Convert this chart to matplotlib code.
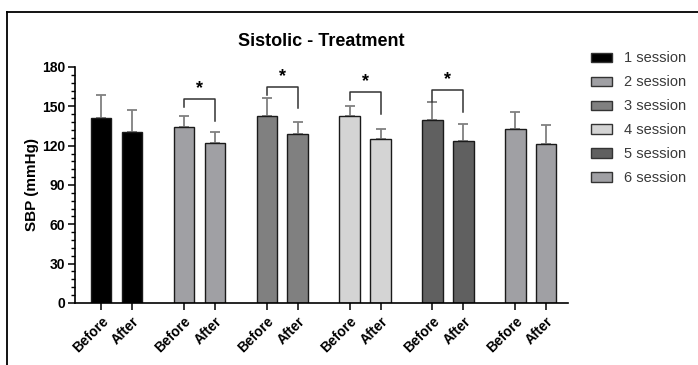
import numpy as np
import matplotlib.pyplot as plt
from matplotlib.lines import Line2D
from matplotlib.patches import Patch
from matplotlib.ticker import MultipleLocator

plt.rcParams['font.family'] = ['Liberation Sans', 'DejaVu Sans']

sessions = ['1 session', '2 session', '3 session', '4 session', '5 session', '6 session']
before = [141, 134.5, 142.5, 142.5, 139.5, 132.5]
after = [130.5, 122, 129, 125, 123.5, 121]
before_sd = [17.5, 8, 14, 8, 14, 13]
after_sd = [17, 8.5, 9, 7.5, 13, 15]
colors = ['#000000', '#a0a0a4', '#808080', '#d4d4d4', '#606060', '#a0a0a4']

# significance brackets: session index, top, left leg end, right leg end
sig_idx = [1, 2, 3, 4]
sig_top = [155.5, 165, 161, 162.5]
sig_left = [149.5, 158.5, 155, 153.5]
sig_right = [138.5, 149, 144.5, 146]

fig = plt.figure(figsize=(6.98, 3.65), dpi=100)
ax = fig.add_axes([0.1075, 0.17, 0.7065, 0.6465])

gap = 2.68
w = 0.66
for i in range(len(sessions)):
    xb = i * gap
    xa = i * gap + 1
    ax.bar([xb, xa], [before[i], after[i]], width=w, color=colors[i],
           edgecolor='#1a1a1a', linewidth=1.0, zorder=2)
    ax.errorbar([xb, xa], [before[i], after[i]],
                yerr=[[0, 0], [before_sd[i], after_sd[i]]],
                fmt='none', ecolor='#808080', elinewidth=1.3,
                capsize=3.3, capthick=1.3, zorder=1)

for k, i in enumerate(sig_idx):
    xb = i * gap
    xa = i * gap + 1
    ax.plot([xb, xb, xa, xa], [sig_left[k], sig_top[k], sig_top[k], sig_right[k]],
            color='#333333', lw=1.1, clip_on=False)
    ax.text((xb + xa) / 2, sig_top[k] + 1.5, '*', ha='center', va='bottom',
            fontsize=13, fontweight='bold')

ticks = []
labels = []
for i in range(len(sessions)):
    ticks += [i * gap, i * gap + 1]
    labels += ['Before', 'After']
ax.set_xticks(ticks)
ax.set_xticklabels(labels, rotation=45, ha='right', rotation_mode='anchor',
                   fontsize=10, fontweight='bold')
ax.set_xlim(-0.84, 5 * gap + 1 + 0.71)
ax.set_ylim(0, 180)
ax.yaxis.set_major_locator(MultipleLocator(30))
ax.yaxis.set_minor_locator(MultipleLocator(6))
for lab in ax.get_yticklabels():
    lab.set_fontweight('bold')
    lab.set_fontsize(10)
ax.tick_params(axis='both', which='major', length=5, width=1.1, pad=2)
ax.tick_params(axis='y', which='minor', length=3, width=1.0)
ax.tick_params(axis='x', pad=3)
ax.spines['top'].set_visible(False)
ax.spines['right'].set_visible(False)
ax.spines['left'].set_linewidth(1.2)
ax.spines['bottom'].set_linewidth(1.2)
ax.set_ylabel('SBP (mmHg)', fontsize=11, fontweight='bold', labelpad=2)
ax.set_title('Sistolic - Treatment', fontsize=13, fontweight='bold', pad=15)

handles = [Patch(facecolor=c, edgecolor='#333333', linewidth=1.0) for c in colors]
leg = fig.legend(handles, sessions, loc='upper left', bbox_to_anchor=(0.839, 0.875),
                 frameon=False, fontsize=10.5, handlelength=1.4, handleheight=0.6,
                 handletextpad=0.8, labelspacing=0.68, borderaxespad=0)
for t in leg.get_texts():
    t.set_color('#3a3a3a')

# outer frame lines (top and left)
fig.add_artist(Line2D([7 / 698, 1], [1 - 12 / 365, 1 - 12 / 365], color='black', lw=1.3))
fig.add_artist(Line2D([7 / 698, 7 / 698], [0, 1 - 12 / 365], color='black', lw=1.3))

fig.savefig('out.png', dpi=100)
